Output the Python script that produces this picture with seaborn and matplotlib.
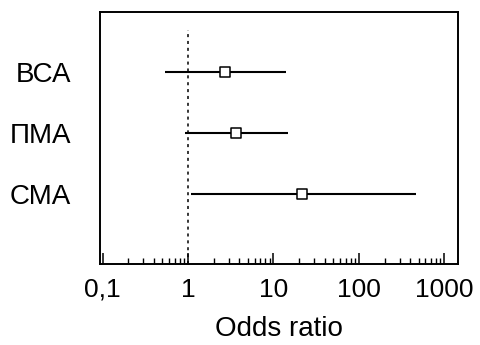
import numpy as np
import pandas as pd
import seaborn as sns
import matplotlib
matplotlib.use("Agg")
import matplotlib.pyplot as plt
from matplotlib.ticker import FixedLocator, LogLocator, NullFormatter

# Data
groups = ["ВСА", "ПМА", "СМА"]
odds = [2.74, 3.65, 21.6]
ci_low = [0.54, 0.91, 1.07]
ci_high = [14.2, 14.7, 472.0]
tick_vals = [0.1, 1, 10, 100, 1000]
tick_labels = ["0,1", "1", "10", "100", "1000"]

df = pd.DataFrame({"group": groups, "or": odds, "lo": ci_low, "hi": ci_high})
df["pos"] = np.arange(len(df))

sns.set_style("white")
plt.rcParams["font.family"] = ["Liberation Sans", "DejaVu Sans"]
plt.rcParams["text.color"] = "black"
plt.rcParams["xtick.color"] = "black"
plt.rcParams["ytick.color"] = "black"
plt.rcParams["axes.labelcolor"] = "black"
plt.rcParams["xtick.bottom"] = True
plt.rcParams["xtick.minor.visible"] = True

fig = plt.figure(figsize=(4.8, 3.45), dpi=100)
ax = fig.add_axes([100 / 480, 1 - 264 / 345, 358 / 480, 252 / 345])

# reference line at OR = 1
ax.axvline(1, ymin=0, ymax=0.93, color="black", linestyle=(0, (2, 2.5)), linewidth=1.1)

# confidence intervals
ax.hlines(df["pos"], df["lo"], df["hi"], color="black", linewidth=1.5, zorder=2)

# point estimates
sns.scatterplot(data=df, x="or", y="pos", marker="s", s=55, color="white",
                edgecolor="black", linewidth=1.1, zorder=3, ax=ax, legend=False)

ax.set_xscale("log")
ax.set_xlim(0.093, 1450)
ax.set_ylim(3.15, -0.98)

ax.xaxis.set_major_locator(FixedLocator(tick_vals))
ax.set_xticklabels(tick_labels)
ax.xaxis.set_minor_locator(LogLocator(base=10, subs=np.arange(2, 10), numticks=20))
ax.xaxis.set_minor_formatter(NullFormatter())
ax.tick_params(axis="x", which="major", direction="in", length=8, width=1.1,
               labelsize=19, pad=10, color="black", bottom=True)
ax.tick_params(axis="x", which="minor", direction="in", length=4, width=1.0,
               color="black", bottom=True)

ax.set_yticks(df["pos"])
ax.set_yticklabels(groups)
ax.tick_params(axis="y", which="both", length=0, left=False, labelsize=20, pad=21)

for sp in ax.spines.values():
    sp.set_visible(True)
    sp.set_color("black")
    sp.set_linewidth(1.4)

ax.set_xlabel("Odds ratio", fontsize=20, labelpad=10)
ax.set_ylabel("")

fig.savefig("out.png", dpi=100)
